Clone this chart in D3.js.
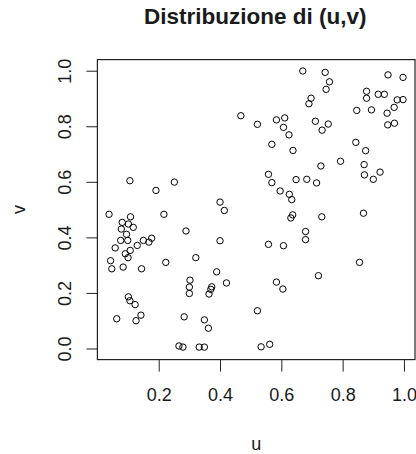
<!DOCTYPE html>
<html>
<head>
<meta charset="utf-8">
<script src="https://cdn.jsdelivr.net/npm/d3@7/dist/d3.min.js"></script>
<style>
  html, body { margin: 0; padding: 0; background: #fff; }
  svg { display: block; }
  text { font-family: "Liberation Sans", Arial, sans-serif; fill: #1a1a1a; }
</style>
</head>
<body>
<script>
// ---- data ----
const title = "Distribuzione di (u,v)";
const xLabel = "u";
const yLabel = "v";
const xTicks = [0.2, 0.4, 0.6, 0.8, 1.0];
const yTicks = [0.0, 0.2, 0.4, 0.6, 0.8, 1.0];
const uValues = [
  0.468, 0.106, 0.191, 0.251, 0.400, 0.414, 0.670, 0.743, 0.757, 0.746,
  0.697, 0.690, 0.948, 0.997, 0.878, 0.878, 0.916, 0.936, 0.978, 0.997,
  0.968, 0.945, 0.947, 0.969, 0.846, 0.894, 0.522, 0.584, 0.611, 0.607,
  0.625, 0.711, 0.753, 0.733, 0.569, 0.638, 0.843, 0.875, 0.729, 0.793,
  0.870, 0.871, 0.900, 0.922, 0.558, 0.569, 0.648, 0.683, 0.715, 0.596,
  0.626, 0.634, 0.637, 0.631, 0.732, 0.868, 0.679, 0.679, 0.558, 0.607,
  0.855, 0.721, 0.584, 0.605, 0.522, 0.534, 0.562, 0.038, 0.081, 0.108,
  0.101, 0.117, 0.078, 0.095, 0.217, 0.289, 0.076, 0.099, 0.058, 0.091,
  0.107, 0.100, 0.130, 0.150, 0.168, 0.177, 0.400, 0.043, 0.047, 0.084,
  0.144, 0.223, 0.321, 0.389, 0.421, 0.302, 0.300, 0.300, 0.373, 0.370,
  0.364, 0.101, 0.106, 0.123, 0.063, 0.142, 0.126, 0.283, 0.349, 0.362,
  0.266, 0.279, 0.332, 0.349
];
const vValues = [
  0.838, 0.604, 0.569, 0.599, 0.527, 0.497, 0.999, 0.994, 0.960, 0.933,
  0.901, 0.881, 0.985, 0.976, 0.926, 0.901, 0.915, 0.915, 0.895, 0.896,
  0.868, 0.847, 0.805, 0.811, 0.857, 0.859, 0.807, 0.823, 0.830, 0.796,
  0.769, 0.818, 0.808, 0.786, 0.735, 0.713, 0.742, 0.712, 0.657, 0.674,
  0.662, 0.625, 0.609, 0.635, 0.627, 0.597, 0.608, 0.609, 0.596, 0.567,
  0.555, 0.536, 0.481, 0.470, 0.474, 0.487, 0.421, 0.392, 0.375, 0.370,
  0.310, 0.262, 0.239, 0.214, 0.136, 0.006, 0.015, 0.483, 0.454, 0.474,
  0.448, 0.436, 0.430, 0.411, 0.483, 0.423, 0.389, 0.389, 0.362, 0.341,
  0.353, 0.327, 0.371, 0.389, 0.383, 0.397, 0.388, 0.316, 0.287, 0.293,
  0.287, 0.310, 0.327, 0.276, 0.236, 0.246, 0.221, 0.198, 0.222, 0.213,
  0.196, 0.186, 0.172, 0.158, 0.107, 0.120, 0.100, 0.114, 0.103, 0.073,
  0.009, 0.005, 0.005, 0.005
];

const W = 416, H = 454;
const box = { left: 97.4, right: 415, top: 59.6, bottom: 359.6 };

const x = d3.scaleLinear().domain([0, 1.036]).range([box.left, box.right]);
const y = d3.scaleLinear().domain([-0.04, 1.04]).range([box.bottom, box.top]);

const svg = d3.select("body").append("svg").attr("width", W).attr("height", H);

// title
svg.append("text")
  .attr("x", (box.left + box.right) / 2 - 1).attr("y", 24)
  .attr("text-anchor", "middle")
  .style("font-weight", "bold").style("font-size", "22.5px")
  .text(title);

// points
const pts = uValues.map((u, i) => ({ u, v: vValues[i] }));
svg.append("g").selectAll("circle").data(pts).join("circle")
  .attr("cx", d => x(d.u)).attr("cy", d => y(d.v)).attr("r", 3.2)
  .attr("fill", "none").attr("stroke", "#000").attr("stroke-width", 1);

// box
svg.append("rect")
  .attr("x", box.left).attr("y", box.top)
  .attr("width", box.right - box.left).attr("height", box.bottom - box.top)
  .attr("fill", "none").attr("stroke", "#222").attr("stroke-width", 1.2);

// x axis
const xAxis = d3.axisBottom(x).tickValues(xTicks).tickSize(12).tickPadding(17)
  .tickFormat(d3.format(".1f"));
const gx = svg.append("g").attr("transform", `translate(0,${box.bottom})`).call(xAxis);
gx.select(".domain").remove();
gx.selectAll(".tick line").attr("stroke", "#222");
gx.selectAll(".tick text").style("font-size", "18px").attr("fill", "#1a1a1a")
  .style("font-family", "'Liberation Sans', Arial, sans-serif");

// y axis
const yAxis = d3.axisLeft(y).tickValues(yTicks).tickSize(11).tickPadding(0)
  .tickFormat(d3.format(".1f"));
const gy = svg.append("g").attr("transform", `translate(${box.left},0)`).call(yAxis);
gy.select(".domain").remove();
gy.selectAll(".tick line").attr("stroke", "#222");
gy.selectAll(".tick text")
  .attr("x", null).attr("dy", null)
  .attr("text-anchor", "middle")
  .attr("transform", "translate(-26,0) rotate(-90)")
  .style("font-size", "18px").attr("fill", "#1a1a1a")
  .style("font-family", "'Liberation Sans', Arial, sans-serif");

// axis labels
svg.append("text")
  .attr("x", (box.left + box.right) / 2).attr("y", 450)
  .attr("text-anchor", "middle").style("font-size", "18px")
  .text(xLabel);
svg.append("text")
  .attr("transform", `translate(25,${(box.top + box.bottom) / 2}) rotate(-90)`)
  .attr("text-anchor", "middle").style("font-size", "18px")
  .text(yLabel);
</script>
</body>
</html>
